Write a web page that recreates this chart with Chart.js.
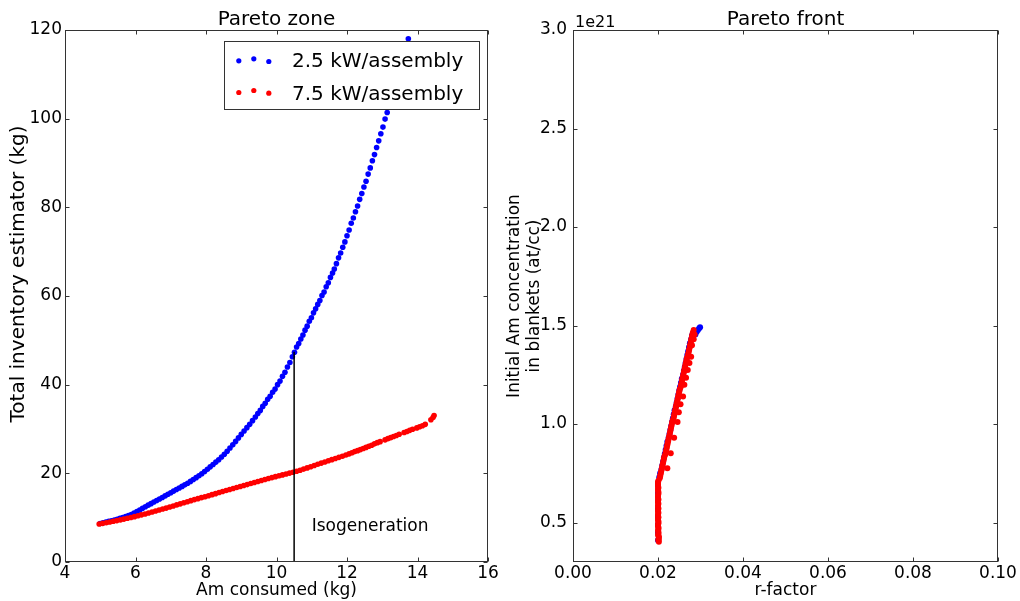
<!DOCTYPE html>
<html>
<head>
<meta charset="utf-8">
<script src="https://cdn.jsdelivr.net/npm/chart.js@4.4.0/dist/chart.umd.min.js"></script>
<style>
html,body{margin:0;padding:0;background:#fff;overflow:hidden;}
#wrapL{position:absolute;left:0;top:0;width:500px;height:601px;}
#wrapR{position:absolute;left:500px;top:0;width:520px;height:601px;}
</style>
</head>
<body>
<div id="wrapL"><canvas id="left" width="500" height="601"></canvas></div>
<div id="wrapR"><canvas id="right" width="520" height="601"></canvas></div>
<script>
// ---------------- DATA ----------------
const seriesNames = ['2.5 kW/assembly', '7.5 kW/assembly'];

// Left panel: "Pareto zone" (Am consumed [kg] vs Total inventory estimator [kg])
const blueAm = [5.00,5.08,5.16,5.24,5.32,5.40,5.48,5.56,5.64,5.72,5.80,5.88,5.96,6.04,6.12,6.20,6.28,6.36,6.44,6.52,6.60,6.68,6.76,6.84,6.92,7.00,7.08,7.16,7.24,7.32,7.40,7.48,7.56,7.64,7.72,7.80,7.88,7.96,8.04,8.12,8.20,8.28,8.36,8.44,8.52,8.60,8.68,8.76,8.84,8.92,9.00,9.08,9.16,9.24,9.32,
  9.40,9.47,9.54,9.61,9.68,9.75,9.82,9.89,9.96,10.03,10.10,10.17,10.24,10.31,10.38,10.45,10.51,10.57,10.63,10.69,10.75,10.81,10.87,10.93,10.99,11.05,11.11,11.17,11.23,11.29,11.35,11.41,11.47,11.53,11.59,11.64,11.70,11.76,11.82,11.88,11.94,12.00,12.06,12.12,12.18,12.24,12.30,12.36,12.42,12.48,12.54,12.60,12.66,12.72,12.78,12.84,12.90,12.96,13.02,13.08,13.14,13.20,13.26,13.32,13.38,13.44,13.50,13.56,13.62,13.74];
const blueInventory = [8.70,8.85,9.00,9.16,9.32,9.48,9.65,9.84,10.03,10.23,10.46,10.72,11.02,11.36,11.72,12.10,12.46,12.82,13.16,13.52,13.87,14.21,14.56,14.91,15.27,15.63,15.99,16.35,16.70,17.05,17.40,17.78,18.18,18.60,19.03,19.46,19.90,20.40,20.92,21.46,22.00,22.53,23.08,23.68,24.32,24.98,25.72,26.42,27.20,27.99,28.78,29.55,30.30,31.05,31.88,
  32.7,33.5,34.2,35.1,35.8,36.7,37.4,38.3,39.0,40.0,40.8,41.9,42.8,44.0,45.0,46.3,47.3,48.5,49.3,50.3,51.2,52.3,53.2,54.3,55.1,56.2,57.1,58.1,59.0,60.1,60.9,62.1,63.0,64.2,65.2,66.1,67.3,68.6,69.7,71.0,72.2,73.6,74.9,76.4,77.6,79.0,80.3,81.8,83.1,84.6,85.9,87.5,88.9,90.5,91.9,93.5,95.0,96.6,98.1,99.9,101.4,103.2,104.8,106.5,108.1,109.9,111.5,113.2,114.7,118.0];

const redAm = [4.97,5.07,5.17,5.27,5.37,5.47,5.57,5.67,5.77,5.87,5.97,6.07,6.17,6.27,6.37,6.47,6.57,6.67,6.77,6.87,6.97,7.07,7.17,7.27,7.37,7.47,7.57,7.67,7.77,7.87,7.97,8.07,8.17,8.27,8.37,8.47,8.57,8.67,8.77,8.87,8.97,9.07,9.17,9.27,9.37,9.47,9.57,9.67,9.77,9.87,9.97,10.07,10.17,10.27,10.37,10.47,10.57,10.67,10.77,10.87,10.97,11.07,11.17,11.27,11.37,11.47,11.57,11.67,11.77,11.87,11.97,
  12.06,12.14,12.22,12.30,12.38,12.46,12.54,12.62,12.70,12.78,12.86,12.94,13.08,13.16,13.24,13.32,13.40,13.48,13.62,13.70,13.78,13.86,13.98,14.06,14.14,14.22,14.38,14.44,14.47];
const redInventory = [8.58,8.72,8.87,9.02,9.18,9.34,9.50,9.68,9.86,10.04,10.23,10.43,10.63,10.84,11.06,11.28,11.50,11.72,11.94,12.16,12.40,12.64,12.88,13.12,13.36,13.60,13.84,14.07,14.29,14.51,14.73,14.96,15.19,15.42,15.66,15.90,16.14,16.36,16.58,16.80,17.02,17.24,17.46,17.69,17.92,18.15,18.38,18.60,18.82,19.04,19.25,19.45,19.65,19.85,20.05,20.25,20.47,20.70,20.95,21.22,21.50,21.77,22.04,22.31,22.57,22.83,23.09,23.35,23.61,23.87,24.13,
  24.40,24.65,24.90,25.12,25.35,25.60,25.85,26.10,26.35,26.65,26.92,27.15,27.55,27.82,28.05,28.30,28.55,28.80,29.20,29.45,29.70,29.95,30.25,30.50,30.75,31.05,32.10,32.60,33.05];

// Isogeneration marker (vertical segment) and its label, data coordinates
const isoLineX = [10.5, 10.5];
const isoLineY = [0, 47.4];
const isoLabel = {text: 'Isogeneration', x: 11.0, y: 7.0};

// Right panel: "Pareto front" (r-factor vs initial Am concentration, units of 1e21 at/cc)
const blueRfactor = [0.0200,0.0200,0.0200,0.0200,0.0200,0.0200,0.0200,0.0200,
  0.0203,0.0208,0.0212,0.0216,0.0220,0.0225,0.0229,0.0233,0.0237,0.0242,0.0246,0.0250,0.0254,0.0259,0.0263,0.0267,0.0271,0.0275,0.0280,
  0.0205,0.0210,0.0214,0.0218,0.0222,0.0227,0.0231,0.0235,0.0239,0.0244,0.0248,0.0252,0.0256,0.0261,0.0265,0.0269,0.0273,0.0278,
  0.0288,0.0291,0.0294,0.0297,0.0299];
const blueConc = [0.41,0.45,0.49,0.53,0.57,0.61,0.65,0.69,
  0.73,0.77,0.81,0.85,0.89,0.93,0.97,1.01,1.05,1.09,1.13,1.17,1.21,1.25,1.29,1.33,1.37,1.41,1.45,
  0.75,0.79,0.83,0.87,0.91,0.95,0.99,1.03,1.07,1.11,1.15,1.19,1.23,1.27,1.31,1.35,1.39,1.43,
  1.455,1.468,1.478,1.486,1.492];

const redRfactor = [0.0202,0.0201,0.0202,0.0201,0.0200,0.0201,0.0200,0.0201,0.0200,0.0200,0.0201,0.0200,0.0200,0.0201,0.0200,0.0200,0.0200,0.0201,0.0200,0.0200,0.0200,0.0201,
  0.0201,0.0202,0.0200,0.0201,0.0201,0.0200,0.0201,0.0200,0.0201,0.0200,0.0200,0.0201,0.0200,0.0200,0.0201,0.0200,0.0201,0.0200,0.0201,0.0200,0.0200,
  0.0204,0.0206,0.0208,0.0210,0.0212,0.0214,0.0217,0.0219,0.0221,0.0223,0.0225,0.0227,0.0229,0.0231,0.0233,0.0236,0.0238,0.0240,0.0242,0.0244,0.0246,0.0248,0.0250,0.0253,0.0255,0.0257,0.0259,0.0261,0.0263,0.0265,0.0267,0.0270,0.0272,0.0274,0.0276,0.0278,0.0280,0.0282,0.0284,
  0.0205,0.0207,0.0209,0.0211,0.0213,0.0215,0.0218,0.0220,0.0222,0.0224,0.0226,0.0228,0.0230,0.0232,0.0234,0.0237,0.0239,0.0241,0.0243,0.0245,0.0247,0.0249,0.0251,0.0254,0.0256,0.0258,0.0260,0.0262,0.0264,0.0266,0.0268,0.0271,0.0273,0.0275,0.0277,0.0279,0.0281,
  0.0222,0.0230,0.0238,0.0246,0.0249,0.0253,0.0259,0.0262,0.0266,0.0270,0.0274,0.0278,0.0280,0.0284,0.0286];
const redConc = [0.403,0.415,0.430,0.445,0.460,0.475,0.490,0.505,0.520,0.535,0.550,0.565,0.580,0.595,0.610,0.625,0.640,0.655,0.670,0.685,0.700,0.712,
  0.409,0.422,0.437,0.452,0.467,0.482,0.497,0.512,0.527,0.542,0.557,0.572,0.587,0.602,0.617,0.632,0.647,0.662,0.677,0.692,0.706,
  0.725,0.745,0.765,0.785,0.805,0.825,0.845,0.865,0.885,0.905,0.925,0.945,0.965,0.985,1.005,1.025,1.045,1.065,1.085,1.105,1.125,1.145,1.165,1.185,1.205,1.225,1.245,1.265,1.285,1.305,1.325,1.345,1.365,1.385,1.405,1.425,1.445,1.465,1.478,
  0.735,0.755,0.775,0.795,0.815,0.835,0.855,0.875,0.895,0.915,0.935,0.955,0.975,0.995,1.015,1.035,1.055,1.075,1.095,1.115,1.135,1.155,1.175,1.195,1.215,1.235,1.255,1.275,1.295,1.315,1.335,1.355,1.375,1.395,1.415,1.435,1.455,
  0.776,0.852,0.930,1.010,1.060,1.100,1.140,1.200,1.235,1.275,1.310,1.342,1.400,1.430,1.455];

const concExponentLabel = '1e21';

// ---------------- STYLE / HELPERS ----------------
const FONT = "'DejaVu Sans', sans-serif";
Chart.defaults.font.family = FONT;
Chart.defaults.color = '#000';
const AXIS_COLOR = '#333';
const BLUE = '#0000ff', RED = '#ff0000';

const pts = (xs, ys) => xs.map((x, i) => ({x, y: ys[i]}));

function frameTicks(tickLen) {
  return {
    id: 'frameTicks',
    afterDraw(chart) {
      const {ctx, chartArea: a} = chart;
      const xs = chart.scales.x, ys = chart.scales.y;
      const L = Math.round(a.left) + 0.5, R = Math.round(a.right) - 0.5;
      const T = Math.round(a.top) + 0.5, B = Math.round(a.bottom) - 0.5;
      ctx.save();
      ctx.strokeStyle = AXIS_COLOR;
      ctx.lineWidth = 1;
      ctx.beginPath();
      xs.ticks.forEach(t => {
        const p = Math.round(xs.getPixelForValue(t.value)) + 0.5;
        ctx.moveTo(p, B); ctx.lineTo(p, B - tickLen);
        ctx.moveTo(p, T); ctx.lineTo(p, T + tickLen);
      });
      ys.ticks.forEach(t => {
        const p = Math.round(ys.getPixelForValue(t.value)) + 0.5;
        ctx.moveTo(L, p); ctx.lineTo(L + tickLen, p);
        ctx.moveTo(R, p); ctx.lineTo(R - tickLen, p);
      });
      ctx.stroke();
      ctx.strokeRect(L, T, R - L, B - T);
      ctx.restore();
    }
  };
}

function xAxis(min, max, step, fmt, title) {
  return {
    type: 'linear', min, max,
    ticks: {stepSize: step, padding: 1, font: {size: 17}, color: '#000', callback: fmt, maxRotation: 0, autoSkip: false},
    grid: {display: false, drawTicks: false},
    border: {display: false},
    title: {display: true, text: title, font: {size: 17}, color: '#000', padding: {top: 0, bottom: 0}},
    afterFit(s) { s.height = 39; s.paddingLeft = 0; s.paddingRight = 0; }
  };
}

function titleOpts(text) {
  return {display: true, text, fullSize: false, color: '#000',
    font: {size: 20, weight: 'normal', lineHeight: 1}, padding: {top: 10, bottom: 0}};
}

const common = {
  responsive: false, animation: false, devicePixelRatio: 1, events: [],
};

// ---------------- LEFT CHART ----------------
const leftExtras = {
  id: 'leftExtras',
  afterDatasetsDraw(chart) {
    const {ctx, chartArea: a, scales} = chart;
    ctx.save();
    // annotation text
    ctx.fillStyle = '#000';
    ctx.font = '17px ' + FONT;
    ctx.textAlign = 'left';
    ctx.textBaseline = 'alphabetic';
    ctx.fillText(isoLabel.text, scales.x.getPixelForValue(isoLabel.x), scales.y.getPixelForValue(isoLabel.y));
    // legend box (upper right, inside axes)
    const x0 = Math.round(a.right) - 264 + 0.5, y0 = Math.round(a.top) + 11 + 0.5, w = 255, h = 68;
    ctx.fillStyle = '#fff';
    ctx.fillRect(x0, y0, w, h);
    ctx.strokeStyle = AXIS_COLOR; ctx.lineWidth = 1;
    ctx.strokeRect(x0, y0, w, h);
    const rows = [{dy: [19.3, 17.3, 20], ty: 25.7}, {dy: [51, 49, 51.7], ty: 58}];
    seriesNames.forEach((name, i) => {
      const d = chart.data.datasets.find(ds => ds.label === name);
      const r = rows[i];
      ctx.fillStyle = d.backgroundColor;
      [14.3, 29.3, 44.3].forEach((dx, k) => {
        ctx.beginPath(); ctx.arc(x0 + dx, y0 + r.dy[k], 2.6, 0, Math.PI * 2); ctx.fill();
      });
      ctx.fillStyle = '#000';
      ctx.font = '20px ' + FONT;
      ctx.fillText(name, x0 + 67.5, y0 + r.ty);
    });
    ctx.restore();
  },
  afterDraw(chart) {
    const ctx = chart.ctx;
    ctx.save();
    ctx.translate(19, 274);
    ctx.rotate(-Math.PI / 2);
    ctx.fillStyle = '#000';
    ctx.font = '20px ' + FONT;
    ctx.textAlign = 'center';
    ctx.textBaseline = 'middle';
    ctx.fillText('Total inventory estimator (kg)', 0, 0);
    ctx.restore();
  }
};

new Chart(document.getElementById('left'), {
  type: 'scatter',
  data: {
    datasets: [
      {type: 'line', label: 'Isogeneration', data: pts(isoLineX, isoLineY), showLine: true,
       borderColor: '#000', borderWidth: 1.5, pointRadius: 0, order: 0},
      {label: seriesNames[1], data: pts(redAm, redInventory), backgroundColor: RED,
       pointRadius: 2.8, pointBorderWidth: 0, order: 1},
      {label: seriesNames[0], data: pts(blueAm, blueInventory), backgroundColor: BLUE,
       pointRadius: 2.8, pointBorderWidth: 0, order: 2}
    ]
  },
  options: {
    ...common,
    layout: {padding: {left: 0, right: 12, top: 0, bottom: 0}},
    plugins: {legend: {display: false}, tooltip: {enabled: false}, title: titleOpts('Pareto zone')},
    scales: {
      x: xAxis(4, 16, 2, v => String(v), 'Am consumed (kg)'),
      y: {
        type: 'linear', min: 0, max: 120,
        ticks: {stepSize: 20, padding: 3, font: {size: 17}, color: '#000'},
        grid: {display: false, drawTicks: false},
        border: {display: false},
        title: {display: false},
        afterFit(s) { s.width = 65; s.paddingTop = 0; s.paddingBottom = 0; }
      }
    }
  },
  plugins: [leftExtras, frameTicks(4)]
});

// ---------------- RIGHT CHART ----------------
const rightExtras = {
  id: 'rightExtras',
  afterDraw(chart) {
    const {ctx, chartArea: a} = chart;
    ctx.save();
    ctx.fillStyle = '#000';
    ctx.font = '16px ' + FONT;
    ctx.textAlign = 'left';
    ctx.textBaseline = 'alphabetic';
    ctx.fillText(concExponentLabel, a.left + 2, a.top - 3.5);
    ctx.restore();
  }
};

new Chart(document.getElementById('right'), {
  type: 'scatter',
  data: {
    datasets: [
      {label: seriesNames[1], data: pts(redRfactor, redConc), backgroundColor: RED,
       pointRadius: 3, pointBorderWidth: 0, order: 1},
      {label: seriesNames[0], data: pts(blueRfactor, blueConc), backgroundColor: BLUE,
       pointRadius: 3, pointBorderWidth: 0, order: 2}
    ]
  },
  options: {
    ...common,
    layout: {padding: {left: 0, right: 22, top: 0, bottom: 0}},
    plugins: {legend: {display: false}, tooltip: {enabled: false}, title: titleOpts('Pareto front')},
    scales: {
      x: xAxis(0, 0.10, 0.02, v => v.toFixed(2), 'r-factor'),
      y: {
        type: 'linear', min: 0.3, max: 3.0,
        ticks: {stepSize: 0.5, includeBounds: false, padding: 6, font: {size: 17}, color: '#000',
                callback: v => v.toFixed(1)},
        grid: {display: false, drawTicks: false},
        border: {display: false},
        title: {display: true, text: ['Initial Am concentration', 'in blankets (at/cc)'], color: '#000',
                font: {size: 17, lineHeight: 1.15}, padding: {top: 5, bottom: 0}},
        afterFit(s) { s.width = 73; s.paddingTop = 0; s.paddingBottom = 0; }
      }
    }
  },
  plugins: [rightExtras, frameTicks(4)]
});
</script>
</body>
</html>
